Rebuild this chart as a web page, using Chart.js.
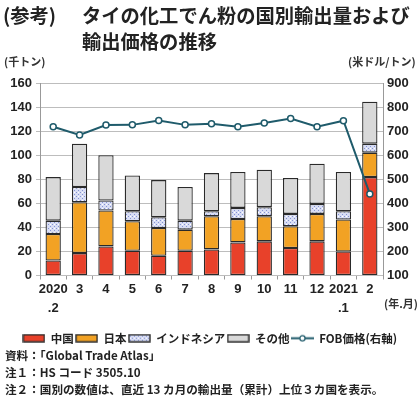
<!DOCTYPE html>
<html>
<head>
<meta charset="utf-8">
<script src="https://cdn.jsdelivr.net/npm/chart.js@4.4.1/dist/chart.umd.min.js"></script>
<style>
  body { margin: 0; background: #fff; font-family: "Liberation Sans", "Noto Sans CJK JP", sans-serif; color: #222; }
  #wrap { position: relative; width: 420px; height: 398px; overflow: hidden; }
  #chartBox { position: absolute; left: 0; top: 0; width: 420px; height: 398px; }
  .txt { position: absolute; white-space: nowrap; }
  .title { font-family: "Noto Sans CJK JP", sans-serif; font-size: 19.3px; font-weight: bold; color: #222; }
  .unit { font-family: "Noto Sans CJK JP", sans-serif; font-size: 11px; font-weight: bold; color: #333; }
  .note { font-family: "Noto Sans CJK JP", sans-serif; font-size: 11.6px; font-weight: bold; color: #222; }
</style>
</head>
<body>
<div id="wrap">
  <div id="chartBox"><canvas id="mainChart"></canvas></div>
  <div class="txt title" style="left:3px; top:1px;">(参考)</div>
  <div class="txt title" style="left:82px; top:1px;">タイの化工でん粉の国別輸出量および</div>
  <div class="txt title" style="left:82px; top:27px;">輸出価格の推移</div>
  <div class="txt unit" style="left:4px; top:53px;">(千トン)</div>
  <div class="txt unit" style="left:348px; top:53px;">(米ドル/トン)</div>
  <div class="txt unit" style="left:384px; top:295px;">(年.月)</div>
  <div class="txt note" style="left:5px; top:347px;">資料：「Global Trade Atlas」</div>
  <div class="txt note" style="left:5px; top:364px;">注１：HS コード 3505.10</div>
  <div class="txt note" style="left:5px; top:381px;">注２：国別の数値は、直近 13 カ月の輸出量（累計）上位３カ国を表示。</div>
</div>
<script>
var months = [["2020", ".2"], "3", "4", "5", "6", "7", "8", "9", "10", "11", "12", ["2021", ".1"], "2"];
var china = [12.5, 18.6, 24.2, 20.6, 16.4, 20.6, 21.7, 27.5, 28.4, 22.8, 28.4, 20.0, 81.8];
var japan = [22.0, 42.3, 29.8, 24.5, 23.1, 17.5, 27.5, 19.5, 20.8, 18.1, 22.8, 26.5, 20.3];
var indonesia = [11.1, 12.6, 8.3, 8.3, 8.9, 7.5, 4.2, 9.2, 7.6, 10.3, 8.3, 6.9, 7.5];
var others = [36.2, 36.1, 37.6, 29.8, 30.9, 27.9, 31.7, 29.8, 31.1, 29.8, 33.4, 32.6, 34.8];
var fobPrice = [718, 684, 725, 726, 744, 726, 731, 718, 734, 752, 718, 743, 439];

var leftTicks = [0, 160, 20];   // min, max, step
var rightTicks = [100, 900, 100];

var RED = "#e8412a", ORANGE = "#f2a224", GREY = "#d9d9d9", TEAL = "#1f5b6b", EDGE = "#2a2a2a";

function dotPattern()
{
    var c = document.createElement("canvas");
    c.width = 4; c.height = 4;
    var g = c.getContext("2d");
    g.fillStyle = "#d8ddf4";
    g.fillRect(0, 0, 4, 4);
    g.fillStyle = "#8593d2";
    g.fillRect(0, 0, 1, 1);
    g.fillRect(2, 2, 1, 1);
    g.fillStyle = "#ffffff";
    g.fillRect(2, 0, 1, 1);
    return g.createPattern(c, "repeat");
}
var INDO = dotPattern();

// legend symbols drawn as small canvases
function boxIcon(fill)
{
    var c = document.createElement("canvas");
    c.width = 23; c.height = 9;
    var g = c.getContext("2d");
    g.fillStyle = fill;
    g.fillRect(1, 1, 21, 7);
    g.strokeStyle = EDGE;
    g.lineWidth = 1.4;
    g.strokeRect(1, 1, 21, 7);
    return c;
}
function lineIcon()
{
    var c = document.createElement("canvas");
    c.width = 23; c.height = 9;
    var g = c.getContext("2d");
    g.strokeStyle = TEAL;
    g.lineWidth = 2;
    g.beginPath(); g.moveTo(0, 4.5); g.lineTo(23, 4.5); g.stroke();
    g.fillStyle = "#fff";
    g.lineWidth = 1.3;
    g.beginPath(); g.arc(11.5, 4.5, 2.6, 0, Math.PI * 2); g.fill(); g.stroke();
    return c;
}

var baseFont = { family: "'Liberation Sans', 'Noto Sans CJK JP', sans-serif", size: 13, weight: "bold", lineHeight: 1.5 };

function barSet(label, data, color)
{
    return {
        type: "bar",
        label: label,
        data: data,
        backgroundColor: color,
        borderColor: EDGE,
        borderWidth: 1.3,
        borderSkipped: false,
        stack: "vol",
        yAxisID: "y",
        order: 2,
        categoryPercentage: 1,
        barPercentage: 0.58,
        legendIcon: boxIcon(color)
    };
}

var datasets = [
    barSet("中国", china, RED),
    barSet("日本", japan, ORANGE),
    barSet("インドネシア", indonesia, INDO),
    barSet("その他", others, GREY),
    {
        type: "line",
        label: "FOB価格(右軸)",
        data: fobPrice,
        yAxisID: "y1",
        borderColor: TEAL,
        borderWidth: 2,
        pointRadius: 3,
        pointBorderWidth: 1.5,
        pointBackgroundColor: "#fff",
        pointBorderColor: TEAL,
        tension: 0,
        order: 1,
        legendIcon: lineIcon()
    }
];

new Chart("mainChart", {
    data: { labels: months, datasets: datasets },
    options: {
        responsive: true,
        maintainAspectRatio: false,
        animation: false,
        layout: { padding: { top: 83, bottom: 44, left: 0, right: 0 } },
        plugins: {
            tooltip: { enabled: false },
            legend: {
                position: "bottom",
                labels: {
                    usePointStyle: true,
                    pointStyleWidth: 22,
                    padding: 2,
                    color: "#222",
                    font: { family: "'Noto Sans CJK JP', sans-serif", size: 11.5, weight: "bold" },
                    generateLabels: function(chart)
                    {
                        return chart.data.datasets.map(function(ds, i) {
                            return { text: ds.label, pointStyle: ds.legendIcon, datasetIndex: i,
                                     fillStyle: "#fff", strokeStyle: "#fff", lineWidth: 0, fontColor: "#222" };
                        });
                    }
                }
            }
        },
        scales: {
            x: {
                stacked: true,
                grid: { drawOnChartArea: false, drawTicks: true, tickLength: 4, color: "#999" },
                border: { display: false },
                ticks: { color: "#222", font: baseFont, maxRotation: 0, autoSkip: false, padding: 0 },
                afterFit: function(s) { s.height = 55; }
            },
            y: {
                stacked: true,
                position: "left",
                min: leftTicks[0],
                max: leftTicks[1],
                ticks: { stepSize: leftTicks[2], color: "#222", font: baseFont, padding: 4 },
                grid: { color: "#bdbdbd", lineWidth: 1, tickLength: 4 },
                border: { color: "#999" },
                afterFit: function(s) { s.width = 40; }
            },
            y1: {
                position: "right",
                min: rightTicks[0],
                max: rightTicks[1],
                ticks: { stepSize: rightTicks[2], color: "#222", font: baseFont, padding: 4 },
                grid: { drawOnChartArea: false, tickLength: 0 },
                border: { color: "#999" },
                afterFit: function(s) { s.width = 37; }
            }
        }
    }
});
</script>
</body>
</html>
